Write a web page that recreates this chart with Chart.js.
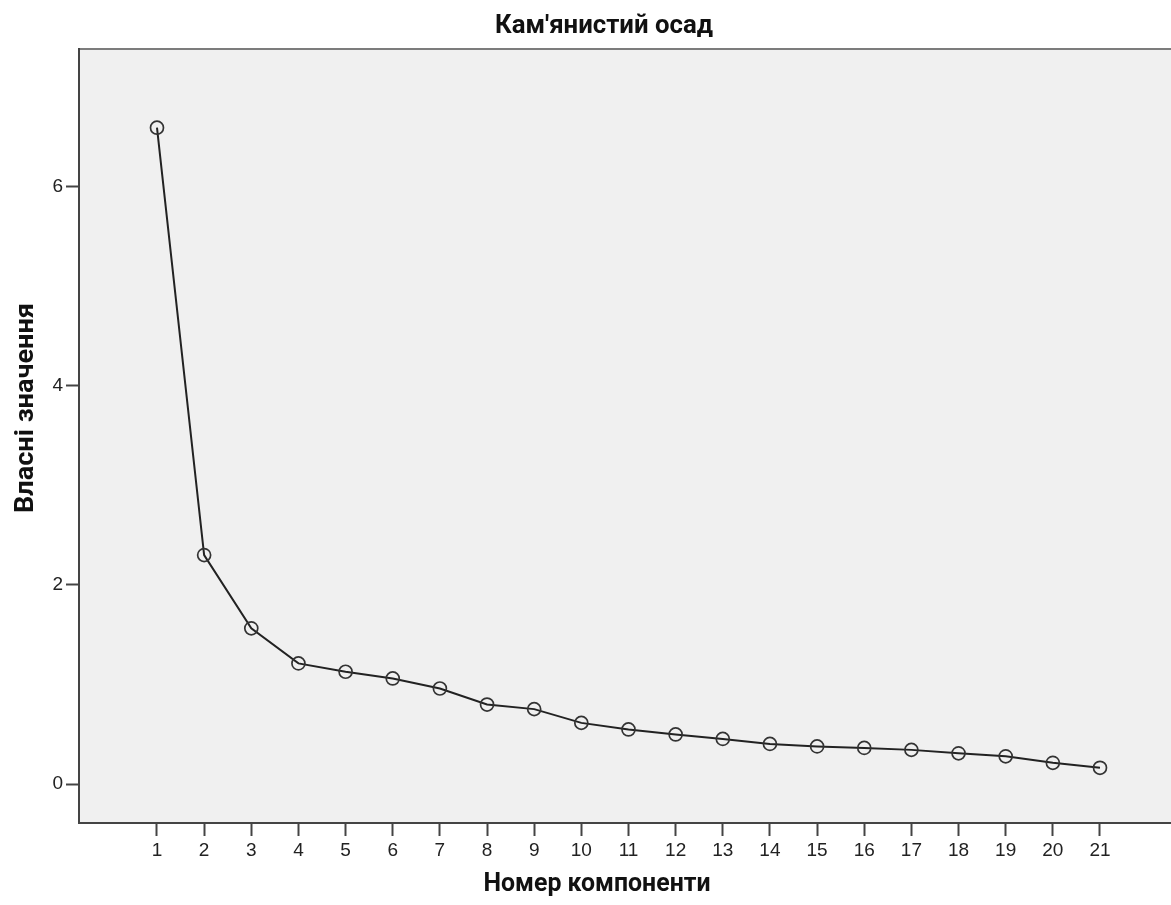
<!DOCTYPE html>
<html>
<head>
<meta charset="utf-8">
<script src="https://cdn.jsdelivr.net/npm/chart.js@4/dist/chart.umd.min.js"></script>
<style>
  html, body { margin: 0; padding: 0; background: #ffffff; }
  #wrap { width: 1171px; height: 905px; }
</style>
</head>
<body>
<div id="wrap"><canvas id="c" width="1171" height="905"></canvas></div>
<script>
// ---- data ----
const chartTitle = "Кам'янистий осад";
const xAxisTitle = "Номер компоненти";
const yAxisTitle = "Власні значення";
const components = [1, 2, 3, 4, 5, 6, 7, 8, 9, 10, 11, 12, 13, 14, 15, 16, 17, 18, 19, 20, 21];
const eigenvalues = [6.59, 2.30, 1.565, 1.213, 1.129, 1.062, 0.961, 0.80, 0.754, 0.616, 0.55, 0.50, 0.455, 0.405, 0.38, 0.365, 0.345, 0.31, 0.28, 0.215, 0.165];
const xTickValues = components;
const yTickValues = [0, 2, 4, 6];

const points = components.map((c, i) => ({ x: c, y: eigenvalues[i] }));

// draw a string centred at (cx, baseline) squeezed/stretched to a target width
function drawFitted(ctx, text, cx, cy, targetW, font, rot) {
  ctx.save();
  ctx.font = font;
  const w = ctx.measureText(text).width;
  ctx.translate(cx, cy);
  if (rot) ctx.rotate(rot);
  ctx.scale(targetW / w, 1);
  ctx.textAlign = 'center';
  ctx.textBaseline = 'alphabetic';
  ctx.fillStyle = '#111111';
  ctx.fillText(text, 0, 0);
  ctx.restore();
}

const framePlugin = {
  id: 'frame',
  beforeDraw(chart) {
    const { ctx, chartArea: a } = chart;
    ctx.save();
    ctx.fillStyle = '#f0f0f0';
    ctx.fillRect(a.left, a.top, a.right - a.left, a.bottom - a.top);
    ctx.strokeStyle = '#7c7c7c';
    ctx.lineWidth = 2;
    ctx.beginPath();
    ctx.moveTo(a.left, a.top);
    ctx.lineTo(a.right, a.top);
    ctx.stroke();
    ctx.restore();
  },
  afterDraw(chart) {
    const { ctx } = chart;
    const f = "bold 25px Roboto, 'Liberation Sans', sans-serif";
    drawFitted(ctx, chartTitle, 604, 33, 218, f, 0);
    drawFitted(ctx, xAxisTitle, 597, 891, 227, f, 0);
    drawFitted(ctx, yAxisTitle, 33, 408, 210, f, -Math.PI / 2);
  }
};

const tickFont = { family: "'Liberation Sans', Arial, sans-serif", size: 19 };

new Chart(document.getElementById('c'), {
  type: 'line',
  data: {
    datasets: [{
      data: points,
      borderColor: '#222222',
      borderWidth: 2,
      pointRadius: 6.5,
      pointBorderWidth: 1.7,
      pointBorderColor: '#333333',
      pointBackgroundColor: 'rgba(0,0,0,0)',
      tension: 0,
      fill: false
    }]
  },
  options: {
    responsive: false,
    devicePixelRatio: 1,
    animation: false,
    layout: { autoPadding: false, padding: { top: 49, right: 0, left: 0, bottom: 0 } },
    plugins: { legend: { display: false }, title: { display: false }, tooltip: { enabled: false } },
    scales: {
      x: {
        type: 'linear',
        min: -0.654,
        max: 22.506,
        afterBuildTicks(s) { s.ticks = xTickValues.map(v => ({ value: v })); },
        afterFit(s) { s.height = 82; s.paddingLeft = 0; s.paddingRight = 0; },
        ticks: { font: tickFont, color: '#222222', padding: 3, maxRotation: 0, autoSkip: false },
        grid: { drawOnChartArea: false, drawTicks: true, tickLength: 13, tickWidth: 2, tickColor: '#444444' },
        border: { display: true, color: '#444444', width: 2 }
      },
      y: {
        type: 'linear',
        min: -0.389,
        max: 7.38,
        afterBuildTicks(s) { s.ticks = yTickValues.map(v => ({ value: v })); },
        afterFit(s) { s.width = 79; s.paddingTop = 0; s.paddingBottom = 0; },
        ticks: { font: tickFont, color: '#222222', padding: 3 },
        grid: { drawOnChartArea: false, drawTicks: true, tickLength: 13, tickWidth: 2, tickColor: '#444444' },
        border: { display: true, color: '#444444', width: 2 }
      }
    }
  },
  plugins: [framePlugin]
});
</script>
</body>
</html>
